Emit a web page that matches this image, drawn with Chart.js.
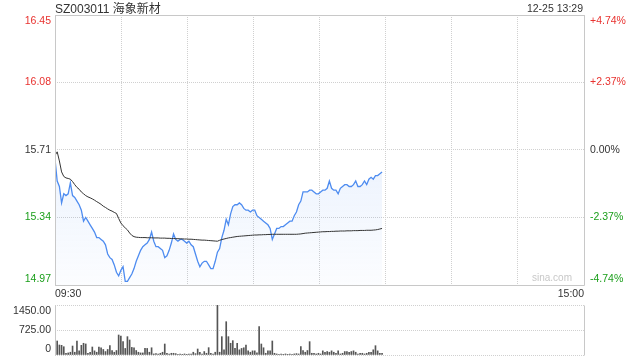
<!DOCTYPE html>
<html lang="zh-CN">
<head>
<meta charset="UTF-8">
<title>SZ003011 海象新材</title>
<script src="https://cdn.jsdelivr.net/npm/chart.js"></script>
<style>
  body { margin: 0; background: #fff; font-family: 'Liberation Sans', Arial, 'Noto Sans CJK SC', sans-serif; }
  #wrap { position: relative; width: 640px; height: 360px; overflow: hidden; }
  #priceBox { position: absolute; left: 0; top: 0; width: 640px; height: 300px; }
  #volBox { position: absolute; left: 0; top: 295px; width: 640px; height: 65px; }
  .txt { position: absolute; white-space: nowrap; line-height: 1; }
  #title { left: 55px; top: 3px; font-size: 12px; color: #333; }
  #stamp { right: 57px; top: 3px; font-size: 10.5px; color: #333; }
  #mark { right: 68px; top: 273px; font-size: 10px; color: #c8c8c8; }
</style>
</head>
<body>
<div id="wrap">
  <div id="priceBox"><canvas id="priceChart"></canvas></div>
  <div id="volBox"><canvas id="volChart"></canvas></div>
  <div class="txt" id="title">SZ003011 海象新材</div>
  <div class="txt" id="stamp">12-25 13:29</div>
  <div class="txt" id="mark">sina.com</div>
</div>
<script>
// one slot per trading minute, 09:30 - 15:00
const SLOTS = 242;
const timeLabels = ['09:30', '', '', '', '', '', '', '', '15:00'];

const priceTicks = [14.97, 15.34, 15.71, 16.08, 16.45];
const pctTicks = ['-4.74%', '-2.37%', '0.00%', '+2.37%', '+4.74%'];
const tickColors = ['#1a9e1a', '#1a9e1a', '#333333', '#e8322f', '#e8322f'];

const volTicks = [0, 725, 1450];
const volLabels = ['0', '725.00', '1450.00'];

// minute prices up to 13:29
const price = [
  15.66, 15.54, 15.51, 15.42, 15.47, 15.46, 15.47, 15.53, 15.46, 15.45,
  15.43, 15.41, 15.38, 15.32, 15.34, 15.32, 15.30, 15.28, 15.26, 15.23,
  15.23, 15.22, 15.21, 15.19, 15.14, 15.12, 15.11, 15.08, 15.04, 15.02,
  15.05, 15.07, 14.99, 14.99, 15.01, 15.03, 15.06, 15.10, 15.13, 15.16,
  15.18, 15.19, 15.20, 15.22, 15.26, 15.21, 15.18, 15.18, 15.17, 15.16,
  15.12, 15.13, 15.16, 15.20, 15.25, 15.22, 15.21, 15.22, 15.22, 15.21,
  15.20, 15.21, 15.19, 15.18, 15.14, 15.10, 15.07, 15.09, 15.10, 15.10,
  15.08, 15.06, 15.06, 15.10, 15.15, 15.17, 15.23, 15.27, 15.33, 15.30,
  15.36, 15.40, 15.41, 15.41, 15.42, 15.41, 15.39, 15.38, 15.38, 15.37,
  15.38, 15.38, 15.35, 15.34, 15.33, 15.32, 15.31, 15.30, 15.28, 15.22,
  15.25, 15.28, 15.28, 15.29, 15.29, 15.30, 15.31, 15.32, 15.32, 15.35,
  15.37, 15.41, 15.43, 15.48, 15.48, 15.48, 15.49, 15.49, 15.48, 15.47,
  15.47, 15.48, 15.49, 15.49, 15.50, 15.54, 15.50, 15.49, 15.49, 15.47,
  15.50, 15.51, 15.52, 15.52, 15.51, 15.51, 15.52, 15.54, 15.51, 15.51,
  15.52, 15.54, 15.52, 15.55, 15.56, 15.55, 15.57, 15.57, 15.58, 15.59
];

// average price line
const avgPrice = [
  15.68, 15.70, 15.65, 15.59, 15.565, 15.557, 15.554, 15.55, 15.537, 15.52,
  15.505, 15.495, 15.48, 15.47, 15.46, 15.453, 15.448, 15.442, 15.435, 15.427,
  15.42, 15.412, 15.402, 15.395, 15.387, 15.38, 15.375, 15.368, 15.362, 15.335,
  15.31, 15.295, 15.283, 15.272, 15.255, 15.242, 15.235, 15.232, 15.231, 15.23,
  15.23, 15.23, 15.229, 15.229, 15.229, 15.228, 15.228, 15.228, 15.227, 15.227,
  15.227, 15.226, 15.226, 15.225, 15.225, 15.224, 15.224, 15.223, 15.223, 15.222,
  15.222, 15.221, 15.221, 15.22, 15.219, 15.218, 15.217, 15.216, 15.216, 15.215,
  15.214, 15.213, 15.212, 15.211, 15.21, 15.215, 15.219, 15.222, 15.225, 15.228,
  15.23, 15.232, 15.234, 15.236, 15.237, 15.238, 15.239, 15.24, 15.241, 15.242,
  15.243, 15.244, 15.244, 15.245, 15.245, 15.246, 15.246, 15.247, 15.247, 15.248,
  15.248, 15.248, 15.248, 15.248, 15.248, 15.248, 15.248, 15.248, 15.248, 15.248,
  15.248, 15.249, 15.25, 15.252, 15.254, 15.255, 15.256, 15.257, 15.258, 15.259,
  15.26, 15.261, 15.262, 15.262, 15.263, 15.263, 15.264, 15.264, 15.265, 15.265,
  15.266, 15.266, 15.266, 15.267, 15.267, 15.267, 15.268, 15.268, 15.268, 15.269,
  15.269, 15.269, 15.27, 15.27, 15.27, 15.271, 15.272, 15.274, 15.277, 15.28
];

// volume per minute
const volume = [
  120, 406, 290, 280, 240, 50, 60, 80, 260, 80,
  406, 120, 280, 340, 320, 50, 80, 232, 120, 80,
  232, 210, 160, 100, 160, 270, 130, 80, 130, 580,
  551, 387, 190, 532, 435, 220, 210, 130, 80, 60,
  60, 190, 190, 80, 210, 30, 40, 30, 50, 80,
  319, 50, 30, 50, 50, 40, 20, 30, 20, 30,
  20, 30, 30, 80, 40, 174, 80, 30, 100, 50,
  213, 50, 30, 80, 1450, 80, 532, 150, 966, 532,
  340, 416, 190, 338, 150, 190, 210, 290, 120, 80,
  120, 120, 60, 822, 319, 210, 50, 120, 120, 406,
  50, 30, 20, 30, 20, 30, 20, 30, 20, 30,
  40, 30, 242, 130, 80, 130, 387, 50, 50, 30,
  50, 30, 120, 80, 100, 80, 120, 80, 50, 120,
  30, 50, 100, 100, 80, 100, 120, 80, 30, 50,
  50, 30, 50, 80, 80, 150, 270, 120, 50, 50
];

Chart.defaults.font.family = "'Liberation Sans', Arial, sans-serif";
Chart.defaults.font.size = 10.5;

const crisp = p => Math.round(p - 0.5) + 0.5;

// solid frame round the plot area
const frame = {
  id: 'frame',
  afterDraw(chart, args, opts) {
    const a = chart.chartArea, ctx = chart.ctx;
    const l = crisp(a.left), r = crisp(a.right), t = crisp(a.top), b = crisp(a.bottom);
    const s = opts.sides || '';
    ctx.save();
    ctx.strokeStyle = '#c8c8c8';
    ctx.lineWidth = 1;
    ctx.beginPath();
    if (s.includes('l')) { ctx.moveTo(l, t); ctx.lineTo(l, b); }
    if (s.includes('r')) { ctx.moveTo(r, t); ctx.lineTo(r, b); }
    if (s.includes('t')) { ctx.moveTo(l, t); ctx.lineTo(r, t); }
    if (s.includes('b')) { ctx.moveTo(l, b); ctx.lineTo(r, b); }
    ctx.stroke();
    ctx.restore();
  }
};

const gridOpts = { color: '#d0d0d0', lineWidth: 1, drawTicks: false };
const dotted = { display: false, dash: [1, 1] };

// fixed axis sizes, no extra room for edge labels
const fixY = w => s => { s.width = w; s.paddingTop = 0; s.paddingBottom = 0; };
const fixX = h => s => { s.height = h; s.paddingLeft = 0; s.paddingRight = 0; };

// edge labels sit inside the frame, like the original
function edgeLabel(text, i, n) {
  if (i === 0) return [text, ''];
  if (i === n - 1) return ['', text];
  return text;
}

new Chart(document.getElementById('priceChart'), {
  type: 'line',
  data: {
    datasets: [
      {
        label: '均价',
        data: avgPrice.map((v, i) => ({ x: i, y: v })),
        borderColor: '#333333',
        borderWidth: 1,
        pointRadius: 0,
        fill: false
      },
      {
        label: '价格',
        data: price.map((v, i) => ({ x: i, y: v })),
        borderColor: '#4e8cf0',
        borderWidth: 1.3,
        pointRadius: 0,
        fill: 'start',
        backgroundColor: c => {
          const a = c.chart.chartArea;
          if (!a) return 'rgba(78,140,240,0.08)';
          const g = c.chart.ctx.createLinearGradient(0, a.top, 0, a.bottom);
          g.addColorStop(0, 'rgba(78,140,240,0.2)');
          g.addColorStop(1, 'rgba(78,140,240,0.02)');
          return g;
        }
      }
    ]
  },
  options: {
    responsive: true,
    maintainAspectRatio: false,
    animation: false,
    layout: { padding: { top: 15 } },
    plugins: { legend: { display: false }, tooltip: { enabled: false }, frame: { sides: 'lrtb' } },
    scales: {
      x: {
        type: 'linear',
        min: 0,
        max: SLOTS - 1,
        afterBuildTicks: s => { s.ticks = timeLabels.map((_, k) => ({ value: k * (SLOTS - 1) / 8 })); },
        afterFit: fixX(15),
        grid: gridOpts,
        border: dotted,
        ticks: {
          autoSkip: false, maxRotation: 0, align: 'inner', padding: 3, color: '#333',
          callback: (v, i) => timeLabels[i]
        }
      },
      y: {
        position: 'left',
        min: priceTicks[0],
        max: priceTicks[priceTicks.length - 1],
        afterBuildTicks: s => { s.ticks = priceTicks.map(v => ({ value: v })); },
        afterFit: fixY(55),
        grid: gridOpts,
        border: dotted,
        ticks: {
          autoSkip: false,
          padding: 4,
          color: c => tickColors[c.index],
          callback: (v, i) => edgeLabel(priceTicks[i].toFixed(2), i, priceTicks.length)
        }
      },
      y2: {
        position: 'right',
        min: priceTicks[0],
        max: priceTicks[priceTicks.length - 1],
        afterBuildTicks: s => { s.ticks = priceTicks.map(v => ({ value: v })); },
        afterFit: fixY(56),
        grid: { display: false, drawTicks: false },
        border: { display: false },
        ticks: {
          autoSkip: false,
          padding: 6,
          color: c => tickColors[c.index],
          callback: (v, i) => edgeLabel(pctTicks[i], i, pctTicks.length)
        }
      }
    }
  },
  plugins: [frame]
});

new Chart(document.getElementById('volChart'), {
  type: 'bar',
  data: {
    datasets: [{
      label: '成交量',
      data: volume.map((v, i) => ({ x: i, y: v })),
      backgroundColor: '#555555',
      barThickness: 1
    }]
  },
  options: {
    responsive: true,
    maintainAspectRatio: false,
    animation: false,
    layout: { padding: { top: 10, bottom: 5, right: 56 } },
    plugins: { legend: { display: false }, tooltip: { enabled: false }, frame: { sides: 'lr' } },
    scales: {
      x: { type: 'linear', min: 0, max: SLOTS - 1, offset: false, display: false },
      y: {
        min: volTicks[0],
        max: volTicks[volTicks.length - 1],
        afterBuildTicks: s => { s.ticks = volTicks.map(v => ({ value: v })); },
        afterFit: fixY(55),
        grid: gridOpts,
        border: dotted,
        ticks: {
          autoSkip: false,
          padding: 4,
          color: '#333',
          callback: (v, i) => edgeLabel(volLabels[i], i, volLabels.length)
        }
      }
    }
  },
  plugins: [frame]
});
</script>
</body>
</html>
